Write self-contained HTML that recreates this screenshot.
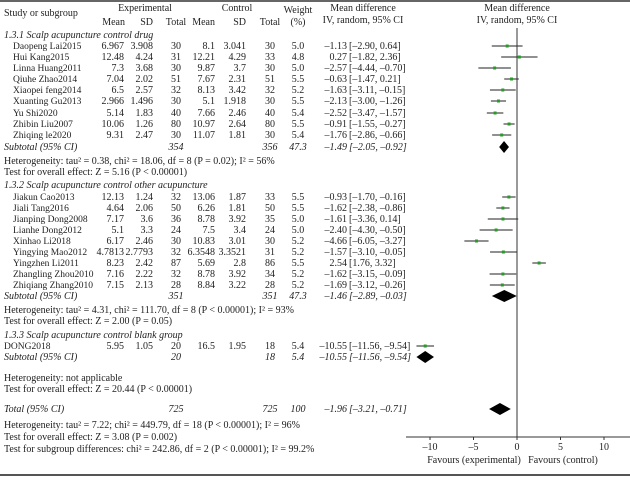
<!DOCTYPE html>
<html><head><meta charset="utf-8"><style>
body{margin:0;background:#fff}
svg{display:block;font-family:"Liberation Serif",serif;font-size:10px;fill:#222}
</style></head><body>
<svg id="c" width="630" height="477">
<line x1="0" y1="1" x2="630" y2="1" stroke="#666" stroke-width="2"/>
<line x1="0" y1="475" x2="630" y2="475" stroke="#555" stroke-width="2"/>
<g>
<text x="4" y="16">Study or subgroup</text>
<text x="145" y="11" text-anchor="middle">Experimental</text>
<text x="237" y="11" text-anchor="middle">Control</text>
<text x="298" y="13" text-anchor="middle">Weight</text>
<text x="298" y="25" text-anchor="middle">(%)</text>
<text x="125" y="25" text-anchor="end">Mean</text><text x="153" y="25" text-anchor="end">SD</text><text x="176" y="25" text-anchor="middle">Total</text>
<text x="215" y="25" text-anchor="end">Mean</text><text x="246" y="25" text-anchor="end">SD</text><text x="270" y="25" text-anchor="middle">Total</text>
<text x="363" y="11" text-anchor="middle">Mean difference</text>
<text x="363" y="23" text-anchor="middle">IV, random, 95% CI</text>
<text x="517" y="11" text-anchor="middle">Mean difference</text>
<text x="517" y="23" text-anchor="middle">IV, random, 95% CI</text>
</g>
<g id="rows"></g>
<g id="plot"></g>
</svg>
<script>
const studyNames=["Daopeng Lai2015","Hui Kang2015","Linna Huang2011","Qiuhe Zhao2014","Xiaopei feng2014","Xuanting Gu2013","Yu Shi2020","Zhibin Liu2007","Zhiqing le2020",
"Jiakun Cao2013","Jiali Tang2016","Jianping Dong2008","Lianhe Dong2012","Xinhao Li2018","Yingying Mao2012","Yingzhen Li2011","Zhangling Zhou2010","Zhiqiang Zhang2010","DONG2018"];
const expMean=["6.967","12.48","7.3","7.04","6.5","2.966","5.14","10.06","9.31","12.13","4.64","7.17","5.1","6.17","4.7813","8.23","7.16","7.15","5.95"];
const expSD=["3.908","4.24","3.68","2.02","2.57","1.496","1.83","1.26","2.47","1.24","2.06","3.6","3.3","2.46","2.7793","2.42","2.22","2.13","1.05"];
const expN=[30,31,30,51,32,30,40,80,30,32,50,36,24,30,32,87,32,28,20];
const ctlMean=["8.1","12.21","9.87","7.67","8.13","5.1","7.66","10.97","11.07","13.06","6.26","8.78","7.5","10.83","6.3548","5.69","8.78","8.84","16.5"];
const ctlSD=["3.041","4.29","3.7","2.31","3.42","1.918","2.46","2.64","1.81","1.87","1.81","3.92","3.4","3.01","3.3521","2.8","3.92","3.22","1.95"];
const ctlN=[30,33,30,51,32,30,40,80,30,33,50,35,24,30,31,86,34,28,18];
const weights=["5.0","4.8","5.0","5.5","5.2","5.5","5.4","5.5","5.4","5.5","5.5","5.0","5.0","5.2","5.2","5.5","5.2","5.2","5.4"];
const md=[-1.13,0.27,-2.57,-0.63,-1.63,-2.13,-2.52,-0.91,-1.76,-0.93,-1.62,-1.61,-2.40,-4.66,-1.57,2.54,-1.62,-1.69,-10.55];
const lo=[-2.90,-1.82,-4.44,-1.47,-3.11,-3.00,-3.47,-1.55,-2.86,-1.70,-2.38,-3.36,-4.30,-6.05,-3.10,1.76,-3.15,-3.12,-11.56];
const hi=[0.64,2.36,-0.70,0.21,-0.15,-1.26,-1.57,-0.27,-0.66,-0.16,-0.86,0.14,-0.50,-3.27,-0.05,3.32,-0.09,-0.26,-9.54];
const studyY=[46,57,68,79,90,101,113,124,135,197,208,219,230,241,252,263,274,285,346];
const subLabels=["Subtotal (95% CI)","Subtotal (95% CI)","Subtotal (95% CI)","Total (95% CI)"];
const subExpN=[354,351,20,725],subCtlN=[356,351,18,725],subW=["47.3","47.3","5.4","100"];
const subMD=[-1.49,-1.46,-10.55,-1.96],subLo=[-2.05,-2.89,-11.56,-3.21],subHi=[-0.92,-0.03,-9.54,-0.71];
const subY=[147,296,357,409];
const xTicks=[-10,-5,0,5,10];
const NS="http://www.w3.org/2000/svg";
const x=v=>517+v*8.7;
const f=v=>(v<0?"\u2013":"")+Math.abs(v).toFixed(2);
const rows=document.getElementById('rows'),plot=document.getElementById('plot');
function el(p,t,a,txt){const e=document.createElementNS(NS,t);for(const k in a)e.setAttribute(k,a[k]);if(txt!==undefined)e.textContent=txt;p.appendChild(e);return e;}
function txt(p,X,Y,s,anchor,style){const a={x:X,y:Y};if(anchor)a['text-anchor']=anchor;if(style)a['font-style']=style;return el(p,'text',a,s);}
function mdText(g,y,m,l,h){txt(g,347,y,f(m),'end');txt(g,349,y,"["+f(l)+", "+f(h)+"]");}
const notes=[
[4,38,"1.3.1 Scalp acupuncture control drug","italic"],
[4,164,"Heterogeneity: tau² = 0.38, chi² = 18.06, df = 8 (P = 0.02); I² = 56%"],
[4,175,"Test for overall effect: Z = 5.16 (P < 0.00001)"],
[4,188,"1.3.2 Scalp acupuncture control other acupuncture","italic"],
[4,313,"Heterogeneity: tau² = 4.31, chi² = 111.70, df = 8 (P < 0.00001); I² = 93%"],
[4,324,"Test for overall effect: Z = 2.00 (P = 0.05)"],
[4,338,"1.3.3 Scalp acupuncture control blank group","italic"],
[4,381,"Heterogeneity: not applicable"],
[4,392,"Test for overall effect: Z = 20.44 (P < 0.00001)"],
[4,428,"Heterogeneity: tau² = 7.22; chi² = 449.79, df = 18 (P < 0.00001); I² = 96%"],
[4,440,"Test for overall effect: Z = 3.08 (P = 0.002)"],
[4,452,"Test for subgroup differences: chi² = 242.86, df = 2 (P < 0.00001); I² = 99.2%"]];
notes.forEach(n=>{const t=txt(rows,n[0],n[1],n[2],null,n[3]);

});
studyNames.forEach((s,i)=>{const y=studyY[i]+3;const g=el(rows,'g',{});


const nm=txt(g,i==18?4:13,y,s);nm.setAttribute('font-size','9.5');
txt(g,124,y,expMean[i],'end');txt(g,153,y,expSD[i],'end');txt(g,176,y,expN[i],'middle');
txt(g,215,y,ctlMean[i],'end');txt(g,246,y,ctlSD[i],'end');txt(g,270,y,ctlN[i],'middle');txt(g,298,y,weights[i],'middle');
mdText(g,y,md[i],lo[i],hi[i]);
const l=el(plot,'line',{x1:x(lo[i]),x2:x(hi[i]),y1:studyY[i],y2:studyY[i],stroke:'#222','stroke-width':1});


const m=el(plot,'rect',{x:x(md[i])-1.5,y:studyY[i]-1.5,width:3,height:3,fill:'#2a9a2a'});

});
subLabels.forEach((s,i)=>{const y=subY[i]+3;const g=el(rows,'g',{'font-style':'italic'});


txt(g,4,y,s);txt(g,176,y,subExpN[i],'middle');txt(g,270,y,subCtlN[i],'middle');txt(g,298,y,subW[i],'middle');
mdText(g,y,subMD[i],subLo[i],subHi[i]);
const Y=subY[i];const d=el(plot,'polygon',{points:`${x(subLo[i])},${Y} ${x(subMD[i])},${Y-6} ${x(subHi[i])},${Y} ${x(subMD[i])},${Y+6}`,fill:'#000'});

});
const zl=el(plot,'line',{x1:517,x2:517,y1:28,y2:437,stroke:'#333'});


const ax=el(plot,'line',{x1:406,x2:630,y1:437,y2:437,stroke:'#333'});


xTicks.forEach(t=>{el(plot,'line',{x1:x(t),x2:x(t),y1:437,y2:440,stroke:'#333'});
const lb=txt(plot,x(t),450,t<0?"\u2013"+(-t):String(t),'middle');

});
const f1=txt(plot,474,463,"Favours (experimental)",'middle');


const f2=txt(plot,563,463,"Favours (control)",'middle');


</script>
</body></html>
